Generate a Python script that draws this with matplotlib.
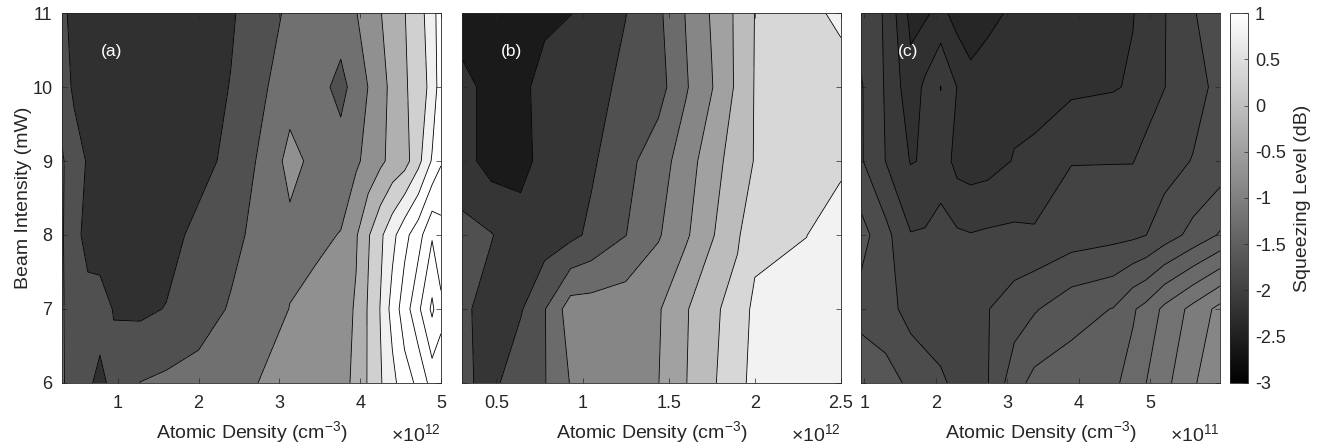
import numpy as np
import matplotlib.pyplot as plt
from matplotlib import colors, cm

plt.rcParams['font.family'] = ['Liberation Sans', 'DejaVu Sans']
plt.rcParams['mathtext.fontset'] = 'custom'
plt.rcParams['mathtext.rm'] = 'Liberation Sans'
plt.rcParams['mathtext.it'] = 'Liberation Sans:italic'
plt.rcParams['axes.unicode_minus'] = False

# beam intensity (mW), same for every panel
power = [6, 7, 8, 9, 10, 11]

# (a) atomic density in units of 1e12 cm^-3, squeezing in dB (rows = power)
dens_a = [0.31, 0.46, 0.63, 0.78, 0.95, 1.28, 1.6, 2.0, 2.4, 2.75, 3.13,
          3.45, 3.76, 3.95, 4.1, 4.25, 4.4, 4.55, 4.72, 4.89, 5.0]
sq_a = [
    [-1.45, -1.7, -1.9, -2.15, -1.83, -1.49, -1.4, -1.3, -1.2, -0.99, -0.85,
     -0.75, -0.65, -0.4, 0.05, 0.45, 0.85, 1.3, 1.6, 2.2, 2.3],
    [-1.45, -1.75, -1.85, -1.75, -2.03, -2.1, -1.98, -1.75, -1.45, -1.25, -0.99,
     -0.85, -0.7, -0.45, 0.05, 0.52, 1.2, 1.75, 2.4, 3.1, 2.6],
    [-1.45, -1.85, -2.15, -2.3, -2.35, -2.35, -2.2, -1.85, -1.65, -1.35, -1.12,
     -1.1, -0.98, -0.55, -0.05, 0.4, 0.85, 1.35, 1.8, 2.45, 2.2],
    [-1.45, -1.75, -2.05, -2.3, -2.4, -2.4, -2.35, -2.2, -1.85, -1.45, -0.85,
     -1.13, -1.28, -1.08, -0.85, -0.6, -0.35, -0.2, 0.35, 1.05, 1.45],
    [-1.7, -2.1, -2.3, -2.4, -2.4, -2.4, -2.35, -2.25, -1.98, -1.62, -1.2,
     -1.3, -1.65, -1.3, -0.99, -0.7, -0.35, -0.07, 0.25, 0.65, 1.3],
    [-1.85, -2.2, -2.3, -2.35, -2.35, -2.35, -2.3, -2.25, -2.06, -1.72, -1.42,
     -1.3, -1.25, -1.03, -0.62, -0.53, -0.2, -0.02, 0.35, 0.7, 1.4],
]

# (b) atomic density in units of 1e12 cm^-3
dens_b = [0.3, 0.47, 0.64, 0.78, 0.93, 1.05, 1.25, 1.44, 1.6, 1.75, 1.9, 2.0, 2.3, 2.5]
sq_b = [
    [-1.871, -2.082, -1.660, -1.554, -1.090, -0.984, -0.858, -0.697, -0.279, 0.092, 0.451, 0.704, 0.873, 0.916],
    [-1.871, -2.124, -1.998, -1.554, -0.900, -0.900, -0.858, -0.731, -0.309, 0.092, 0.282, 0.704, 0.831, 0.873],
    [-1.829, -1.934, -2.209, -2.167, -2.061, -1.871, -1.542, -1.153, -0.752, -0.309, 0.113, 0.409, 0.569, 0.916],
    [-2.209, -2.547, -2.504, -2.251, -2.124, -2.019, -1.660, -1.301, -0.900, -0.436, -0.056, 0.177, 0.367, 0.451],
    [-2.251, -2.504, -2.526, -2.167, -2.124, -2.082, -1.871, -1.702, -1.153, -0.710, -0.182, 0.177, 0.282, 0.240],
    [-2.589, -2.568, -2.547, -2.504, -2.386, -2.230, -1.964, -1.618, -1.090, -0.647, -0.182, 0.164, 0.367, 0.747],
]

# (c) atomic density in units of 1e11 cm^-3
dens_c = [0.954, 1.3, 1.65, 1.85, 2.07, 2.3, 2.49, 2.73, 3.1, 3.38, 3.9,
          4.48, 4.76, 4.94, 5.2, 5.6, 5.98]
sq_c = [
    [-1.605, -1.665, -1.755, -1.80, -1.845, -1.92, -1.935, -1.88, -1.635,
     -1.53, -1.50, -1.448, -1.38, -1.278, -1.17, -0.99, -0.885],
    [-1.785, -1.815, -1.935, -1.965, -1.98, -1.98, -1.965, -1.88, -1.80,
     -1.74, -1.63, -1.57, -1.44, -1.38, -1.24, -1.08, -0.93],
    [-1.665, -1.83, -2.018, -2.01, -1.98, -2.003, -2.018, -2.003, -1.995,
     -2.003, -1.95, -1.92, -1.905, -1.878, -1.80, -1.68, -1.56],
    [-1.86, -2.028, -2.183, -2.163, -2.085, -2.228, -2.25, -2.235, -2.166,
     -2.153, -2.03, -2.03, -2.03, -1.98, -1.935, -1.868, -1.815],
    [-1.86, -2.04, -2.265, -2.145, -2.022, -2.178, -2.273, -2.235, -2.22,
     -2.213, -2.205, -2.186, -2.16, -2.10, -2.028, -1.935, -1.83],
    [-1.935, -2.04, -2.37, -2.348, -2.28, -2.385, -2.415, -2.37, -2.295,
     -2.265, -2.243, -2.205, -2.18, -2.13, -2.033, -1.883, -1.815],
]

panel_tags = ['(a)', '(b)', '(c)']
scale_text = ['12', '12', '11']
xticks = [[1, 2, 3, 4, 5], [0.5, 1, 1.5, 2, 2.5], [1, 2, 3, 4, 5]]
levels = [np.arange(-2.5, 3.6, 0.5),
          np.linspace(-2.8, 1.0, 10),
          np.arange(-2.475, -0.8, 0.15)]

txt = '#262626'
norm = colors.Normalize(vmin=-3, vmax=1)

fig = plt.figure(figsize=(13.25, 4.47), dpi=100)
lefts = [0.0468, 0.3487, 0.6498]
widths = [0.286, 0.286, 0.271]

data = [(dens_a, sq_a), (dens_b, sq_b), (dens_c, sq_c)]
for i, (xd, zd) in enumerate(data):
    ax = fig.add_axes([lefts[i], 0.1432, widths[i], 0.8277])
    ax.contourf(xd, power, zd, levels=levels[i], cmap='gray', norm=norm)
    ax.contour(xd, power, zd, levels=levels[i], colors='k', linewidths=0.6,
               negative_linestyles='solid')
    ax.set_xlim(xd[0], xd[-1])
    ax.set_ylim(6, 11)
    ax.set_xticks(xticks[i])
    ax.set_xticklabels(['%g' % t for t in xticks[i]])
    ax.set_yticks(power)
    ax.tick_params(direction='in', top=True, right=True, length=3.5, width=0.5,
                   labelsize=13, colors=txt, pad=7)
    ax.tick_params(axis='x', pad=9)
    if i > 0:
        ax.set_yticklabels([])
    else:
        ax.set_ylabel('Beam Intensity (mW)', fontsize=14, color=txt, labelpad=0)
    for s in ax.spines.values():
        s.set_linewidth(0.6)
        s.set_color(txt)
    ax.set_xlabel('Atomic Density (cm$^{-3}$)', fontsize=14, color=txt, labelpad=5)
    ax.text(1.0, -0.156, '\u00d710$^{' + scale_text[i] + '}$', transform=ax.transAxes,
            ha='right', va='baseline', fontsize=14, color=txt)
    ax.text(0.13, 0.895, panel_tags[i], transform=ax.transAxes, color='white',
            fontsize=12.5, ha='center', va='center')

cax = fig.add_axes([0.9283, 0.1432, 0.0136, 0.8277])
cb = fig.colorbar(cm.ScalarMappable(norm=norm, cmap='gray'), cax=cax,
                  ticks=np.arange(-3, 1.01, 0.5))
cb.ax.set_yticklabels(['%g' % t for t in np.arange(-3, 1.01, 0.5)])
cb.ax.tick_params(direction='in', length=3, width=0.5, labelsize=13, colors=txt, pad=5)
cb.outline.set_linewidth(0.6)
cb.outline.set_edgecolor(txt)
cb.set_label('Squeezing Level (dB)', fontsize=14, color=txt, labelpad=6)

fig.savefig('out.png', dpi=100)
